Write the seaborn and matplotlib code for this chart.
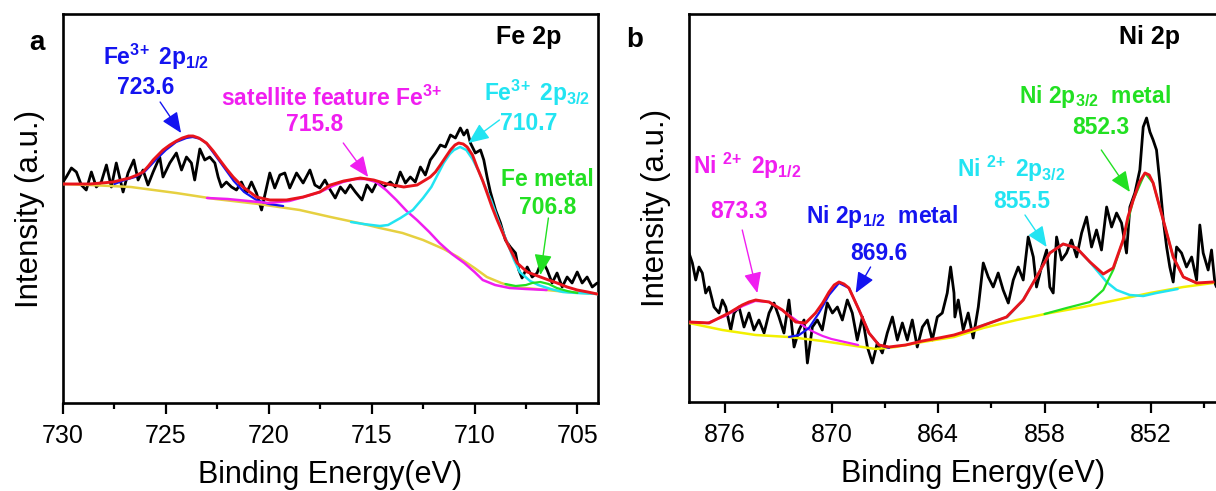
import matplotlib
matplotlib.use('Agg')
import matplotlib.pyplot as plt
import seaborn as sns
import pandas as pd

# ---------------- Fe 2p (panel a) ----------------
fe_raw_E = [730.00, 729.84, 729.59, 729.35, 729.11, 728.87, 728.62, 728.38, 728.14, 727.89,
            727.65, 727.41, 727.08, 726.84, 726.56, 726.35, 726.11, 725.87, 725.62, 725.30,
            725.14, 724.81, 724.49, 724.24, 724.00, 723.76, 723.60, 723.35, 723.11, 722.87,
            722.62, 722.46, 722.30, 722.06, 721.81, 721.57, 721.33, 721.08, 720.84, 720.60,
            720.35, 720.19, 719.95, 719.71, 719.46, 719.22, 718.98, 718.65, 718.33, 718.00,
            717.76, 717.52, 717.27,
            717.01, 716.77, 716.52, 716.28, 716.04, 715.79, 715.47, 715.23, 714.98, 714.74,
            714.42, 714.09, 713.85, 713.61, 713.36, 713.12, 712.88, 712.63, 712.39, 712.15,
            711.90, 711.66, 711.42, 711.17, 710.93, 710.69, 710.52, 710.36, 710.20, 709.96,
            709.71, 709.55, 709.39, 709.23, 708.98, 708.74, 708.50, 708.26, 708.01, 707.85,
            707.69, 707.44, 707.20, 706.96, 706.72, 706.47, 706.23, 705.99, 705.74, 705.50,
            705.26, 705.01, 704.77, 704.53, 704.28, 704.04]
fe_raw_I = [221, 226, 235, 231, 218, 213, 231, 216, 221, 238,
            216, 240, 211, 230, 243, 223, 233, 218, 231, 246,
            226, 240, 250, 233, 246, 240, 223, 254, 243, 246,
            240, 226, 216, 221, 216, 213, 221, 210, 221, 210,
            193, 208, 230, 215, 228, 230, 215, 230, 220, 233,
            218, 215, 223,
            213, 205, 216, 210, 218, 211, 203, 218, 211, 221,
            216, 221, 216, 231, 220, 226, 221, 236, 228, 243,
            250, 258, 256, 268, 265, 275, 268, 273, 260, 250,
            253, 243, 226, 211, 193, 180, 163, 156, 150, 133,
            125, 136, 126, 130, 143, 133, 120, 130, 116, 126,
            120, 131, 120, 126, 116, 120]

fe_fit_E = [730.0, 728.7, 727.57, 726.76, 726.4, 726.11, 725.85, 725.62, 725.38, 725.14,
            724.81, 724.49, 724.2, 723.9, 723.68, 723.4, 723.03, 722.7, 722.38, 722.05,
            721.73, 721.25, 720.6, 719.95, 719.14, 718.33, 717.52, 717.01, 716.36, 715.55,
            714.9, 714.25, 713.44, 712.79, 712.15, 711.9, 711.66, 711.4, 711.17, 710.95,
            710.77, 710.55, 710.36, 710.1, 709.88, 709.6, 709.39, 709.15, 708.9, 708.65,
            708.42, 708.15, 707.93, 707.44, 706.8, 706.4, 705.99, 705.5, 705.01, 704.5, 704.04]
fe_fit_I = [219, 219, 221, 225, 228, 231, 237, 243, 248, 253,
            258, 262, 265, 267, 267, 265, 260, 252, 243, 234,
            226, 216, 206, 203, 203, 206, 211, 218, 222, 225,
            223, 219, 216, 218, 226, 231, 238, 246, 253, 258,
            260, 259, 256, 248, 236, 222, 210, 196, 183, 171,
            160, 149, 140, 131, 126, 123, 120, 116, 113, 111, 109]

fe_bg_E = [730.0, 728.7, 726.7, 724.5, 722.6, 720.5, 718.5, 717.0, 715.4, 714.6, 713.5,
           712.5, 711.5, 710.8, 710.0, 709.4, 708.7, 708.1, 707.0, 706.5, 705.5, 704.0]
fe_bg_I = [219, 218, 216, 210, 204, 199, 193, 186, 179, 175, 170,
           163, 154, 146, 135, 126, 120, 116, 114, 113, 111, 109]

fe_p12_E = [727.5, 727.0, 726.5, 726.0, 725.5, 725.0, 724.5, 724.0, 723.7, 723.3, 723.0,
            722.4, 721.7, 721.2, 720.6, 720.0, 719.3]
fe_p12_I = [219, 223, 226, 232, 243, 253, 261, 265, 266, 264, 259,
            242, 222, 211, 203, 199, 197]

fe_sat_E = [723.0, 722.0, 721.0, 720.0, 719.5, 719.0, 718.3, 717.5, 716.9, 716.4, 715.8,
            715.3, 714.8, 714.3, 713.8, 713.3, 712.8, 712.2, 711.7, 711.1, 710.5, 710.0,
            709.6, 709.0, 708.3, 707.5, 706.5]
fe_sat_I = [205, 204, 202, 200, 201, 202, 206, 211, 217, 221, 224,
            224, 221, 213, 203, 192, 183, 171, 160, 149, 140, 131,
            123, 118, 115, 114, 113]

fe_p32_E = [716.0, 715.4, 714.6, 714.2, 713.6, 713.0, 712.5, 712.1, 711.8, 711.5,
            711.2, 711.0, 710.7, 710.4, 710.1, 709.8, 709.5, 709.2, 708.8, 708.4, 708.1,
            707.8, 707.3, 706.9, 706.3, 705.7, 705.0, 704.0]
fe_p32_I = [181, 179, 177, 178, 185, 193, 205, 216, 228, 240,
            249, 253, 256, 253, 244, 232, 217, 203, 180, 160, 144,
            131, 122, 118, 114, 111, 110, 109]

fe_met_E = [708.5, 708.0, 707.5, 707.2, 706.8, 706.4, 706.0, 705.5, 705.0]
fe_met_I = [119, 117, 118, 120, 121, 119, 115, 112, 110]

# ---------------- Ni 2p (panel b) ----------------
ni_raw_E = [878.03, 877.84, 877.65, 877.47, 877.28, 877.09, 876.90, 876.62, 876.34, 876.15,
            875.96, 875.68, 875.49, 875.21, 874.93, 874.65, 874.37, 874.09, 873.80, 873.52,
            873.24, 872.96, 872.68, 872.40, 872.11, 871.83, 871.55, 871.36, 871.08, 870.80,
            870.52, 870.24, 869.95, 869.67, 869.39, 869.11, 868.83, 868.55, 868.26, 867.98,
            867.70, 867.42, 867.14, 866.86, 866.57, 866.29, 866.01, 865.73, 865.45, 865.17,
            864.88, 864.60, 864.32, 864.04, 863.76, 863.48, 863.29, 863.10,
            863.05, 862.86, 862.58, 862.30, 862.02, 861.73, 861.45, 861.17, 860.89, 860.61,
            860.33, 860.04, 859.76, 859.48, 859.20, 858.92, 858.63, 858.45, 858.17, 857.88,
            857.70, 857.51, 857.32, 857.04, 856.76, 856.48, 856.19, 855.91, 855.63, 855.35,
            855.07, 854.79, 854.50, 854.22, 853.94, 853.66, 853.38, 853.19, 852.91, 852.63,
            852.44, 852.25, 852.06, 851.88, 851.69, 851.50, 851.31, 851.12, 850.94, 850.75,
            850.56, 850.28, 850.00, 849.71, 849.43, 849.25, 849.06, 848.78, 848.59, 848.40, 848.31]
ni_raw_I = [149, 139, 122, 135, 129, 109, 115, 95, 89, 102,
            95, 72, 89, 95, 75, 89, 72, 82, 69, 89,
            99, 85, 69, 102, 55, 72, 82, 39, 75, 82,
            72, 99, 89, 95, 82, 102, 89, 62, 85, 55,
            39, 59, 49, 69, 85, 62, 79, 62, 82, 55,
            75, 82, 62, 85, 89, 109, 135, 109,
            85, 102, 72, 89, 64, 95, 139, 125, 115, 129,
            112, 99, 122, 135, 122, 165, 145, 115, 135, 152,
            115, 109, 165, 142, 149, 162, 145, 169, 185, 155,
            172, 152, 195, 175, 189, 179, 149, 195, 209, 232,
            275, 284, 270, 262, 252, 219, 182, 155, 135, 120,
            155, 149, 135, 145, 122, 177, 149, 132, 152, 119, 115]

ni_fit_E = [878.03, 876.9, 875.78, 875.03, 874.65, 874.27, 873.9, 873.52, 872.77, 872.02,
            871.46, 870.9, 870.5, 870.14, 869.85, 869.58, 869.3, 869.02, 868.45, 867.89,
            867.33, 866.76, 865.82, 864.88, 863.95, 863.1, 862.2, 861.08, 860.14, 859.2,
            858.45, 857.7, 856.95, 856.19, 855.44, 854.69, 854.13, 853.57, 853.3, 853.0,
            852.65, 852.34, 852.1, 851.88, 851.31, 850.75, 850.18, 849.43, 848.5]
ni_fit_I = [80, 79, 89, 97, 100, 102, 101, 100, 92, 80,
            79, 89, 99, 110, 117, 120, 118, 114, 92, 69,
            57, 55, 57, 61, 64, 67, 72, 79, 85, 102,
            125, 149, 158, 154, 140, 128, 134, 162, 185, 202,
            220, 229, 227, 219, 182, 145, 125, 119, 120]

ni_bg_E = [878.03, 876.15, 874.27, 872.4, 870.52, 868.64, 867.51, 866.39, 864.88, 863.1,
           861.45, 859.57, 857.7, 855.82, 853.94, 852.06, 850.18, 848.5]
ni_bg_I = [79, 72, 67, 65, 61, 56, 53, 55, 60, 65,
           74, 82, 89, 95, 102, 109, 115, 119]

ni_2p12_E = [878.03, 877.0, 876.0, 875.0, 874.3, 873.5, 872.8, 872.0, 871.5, 871.0, 870.5,
             870.0, 869.5, 869.0, 868.5]
ni_2p12_I = [80, 79, 86, 96, 101, 100, 92, 82, 75, 70, 66,
             63, 61, 59, 57]

ni_m12_E = [872.4, 871.83, 871.27, 870.71, 870.14, 869.58, 869.02, 868.45, 867.89, 867.33, 866.76]
ni_m12_I = [65, 67, 74, 89, 107, 119, 114, 92, 69, 57, 54]

ni_2p32_E = [862.2, 861.1, 860.1, 859.2, 858.45, 857.7, 856.95, 856.2, 855.45, 855.07, 854.5,
             853.94, 853.2, 852.44, 851.7, 850.5]
ni_2p32_I = [72, 79, 85, 102, 125, 149, 158, 154, 140, 132, 120,
             112, 107, 106, 109, 113]

ni_m32_E = [858.0, 856.76, 855.44, 854.69, 854.13, 853.57, 853.0, 852.34, 851.88, 851.31,
            850.75, 850.18, 849.43]
ni_m32_I = [88, 94, 100, 112, 132, 162, 202, 229, 219, 182,
            145, 125, 119]

# colours
c_red = '#e8141c'
c_blue = '#1414f0'
c_mag = '#f01ef0'
c_cyan = '#22e4f2'
c_green = '#22e022'
c_yel_a = '#e6d040'
c_yel_b = '#f2f000'

sns.set_style('ticks')
plt.rcParams['font.family'] = ['Liberation Sans', 'DejaVu Sans']
plt.rcParams['mathtext.fontset'] = 'custom'
plt.rcParams['mathtext.rm'] = 'Liberation Sans:bold'
plt.rcParams['mathtext.bf'] = 'Liberation Sans:bold'
plt.rcParams['mathtext.it'] = 'Liberation Sans:bold'
plt.rcParams['mathtext.default'] = 'rm'
plt.rcParams['axes.edgecolor'] = 'black'
plt.rcParams['axes.labelcolor'] = 'black'
plt.rcParams['xtick.color'] = 'black'
plt.rcParams['text.color'] = 'black'

fig = plt.figure(figsize=(12.16, 4.91), dpi=100)
W, H = 1216, 491
ax_a = fig.add_axes([63 / W, (H - 403) / H, 535 / W, 389 / H])
ax_b = fig.add_axes([689 / W, (H - 402) / H, 568.5 / W, 388 / H])


def line(ax, E, I, color, lw, z):
    d = pd.DataFrame({'E': E, 'I': I})
    sns.lineplot(data=d, x='E', y='I', ax=ax, color=color, lw=lw, zorder=z,
                 estimator=None, sort=True)


line(ax_a, fe_raw_E, fe_raw_I, 'black', 2.0, 2)
line(ax_a, fe_bg_E, fe_bg_I, c_yel_a, 1.8, 3)
line(ax_a, fe_p12_E, fe_p12_I, c_blue, 1.6, 3)
line(ax_a, fe_sat_E, fe_sat_I, c_mag, 1.8, 3)
line(ax_a, fe_p32_E, fe_p32_I, c_cyan, 1.8, 3)
line(ax_a, fe_met_E, fe_met_I, c_green, 1.6, 3)
line(ax_a, fe_fit_E, fe_fit_I, c_red, 2.1, 4)

line(ax_b, ni_raw_E, ni_raw_I, 'black', 2.0, 2)
line(ax_b, ni_bg_E, ni_bg_I, c_yel_b, 1.8, 3)
line(ax_b, ni_2p12_E, ni_2p12_I, c_mag, 1.6, 3)
line(ax_b, ni_m12_E, ni_m12_I, c_blue, 1.6, 3)
line(ax_b, ni_2p32_E, ni_2p32_I, c_cyan, 1.8, 3)
line(ax_b, ni_m32_E, ni_m32_I, c_green, 1.6, 3)
line(ax_b, ni_fit_E, ni_fit_I, c_red, 2.1, 4)

ax_a.set_xlim(730, 704)
ax_a.set_ylim(0, 389)
ax_a.set_xticks([730, 725, 720, 715, 710, 705])
ax_a.set_xticks([727.5, 722.5, 717.5, 712.5, 707.5], minor=True)
ax_b.set_xlim(878.03, 846)
ax_b.set_ylim(0, 388)
ax_b.set_xticks([876, 870, 864, 858, 852])
ax_b.set_xticks([873, 867, 861, 855, 849], minor=True)

for ax in (ax_a, ax_b):
    ax.set_yticks([])
    ax.set_xlabel('Binding Energy(eV)', fontsize=22, labelpad=9)
    ax.set_ylabel('Intensity (a.u.)', fontsize=22.5, labelpad=13)
    ax.tick_params(axis='x', which='major', length=8, width=1.6, labelsize=18, pad=7,
                   colors='black')
    ax.tick_params(axis='x', which='minor', length=4.5, width=1.6, colors='black')
    for s in ax.spines.values():
        s.set_linewidth(1.9)
        s.set_color('black')
        s.set_visible(True)

bold = dict(fontweight='bold', ha='center', va='center')
arrow = dict(arrowstyle='-|>,head_length=0.7,head_width=0.3', lw=1.0, mutation_scale=18,
             shrinkA=0, shrinkB=0)


def note(ax, txt, xy, color, size=16.5):
    ax.text(xy[0], xy[1], txt, color=color, fontsize=size, **bold)


def arr(ax, start, tip, color):
    ax.annotate('', xy=tip, xytext=start, arrowprops=dict(arrow, color=color))


# panel a annotations
note(ax_a, 'Fe 2p', (707.38, 366), 'black', 18)
note(ax_a, r'Fe$^{3\!+}$ 2p$_{1/2}$', (725.48, 346), c_blue)
note(ax_a, '723.6', (725.96, 316), c_blue)
arr(ax_a, (725.28, 301), (724.26, 270), c_blue)
note(ax_a, r'satellite feature Fe$^{3\!+}$', (716.96, 305), c_mag)
note(ax_a, '715.8', (717.79, 279), c_mag)
arr(ax_a, (716.38, 260), (715.17, 226), c_mag)
note(ax_a, r'Fe$^{3\!+}$ 2p$_{3/2}$', (706.95, 310), c_cyan)
note(ax_a, '710.7', (707.38, 280), c_cyan)
arr(ax_a, (708.79, 283), (710.3, 260), c_cyan)
note(ax_a, 'Fe metal', (706.46, 223), c_green)
note(ax_a, '706.8', (706.46, 196), c_green)
arr(ax_a, (706.41, 185), (706.8, 128), c_green)

# panel b annotations
note(ax_b, 'Ni 2p', (852.11, 365), 'black', 18)
note(ax_b, r'Ni 2p$_{3/2}$  metal', (855.16, 306), c_green)
note(ax_b, '852.3', (854.82, 275), c_green)
arr(ax_b, (854.8, 252), (853.19, 210), c_green)
note(ax_b, r'Ni $^{2\!+}$ 2p$_{3/2}$', (859.89, 233), c_cyan)
note(ax_b, '855.5', (859.27, 201), c_cyan)
arr(ax_b, (859.1, 187), (857.88, 155), c_cyan)
note(ax_b, r'Ni $^{2\!+}$ 2p$_{1/2}$', (874.76, 236), c_mag)
note(ax_b, '873.3', (875.21, 190), c_mag)
arr(ax_b, (875.03, 172), (874.18, 109), c_mag)
note(ax_b, r'Ni 2p$_{1/2}$  metal', (867.16, 185), c_blue)
note(ax_b, '869.6', (867.33, 148), c_blue)
arr(ax_b, (867.8, 135), (868.64, 109), c_blue)

fig.text(37 / W, 1 - 43 / H, 'a', fontsize=20, fontweight='bold', ha='center', va='center')
fig.text(635 / W, 1 - 40 / H, 'b', fontsize=20, fontweight='bold', ha='center', va='center')

fig.savefig('out.png', dpi=100)
